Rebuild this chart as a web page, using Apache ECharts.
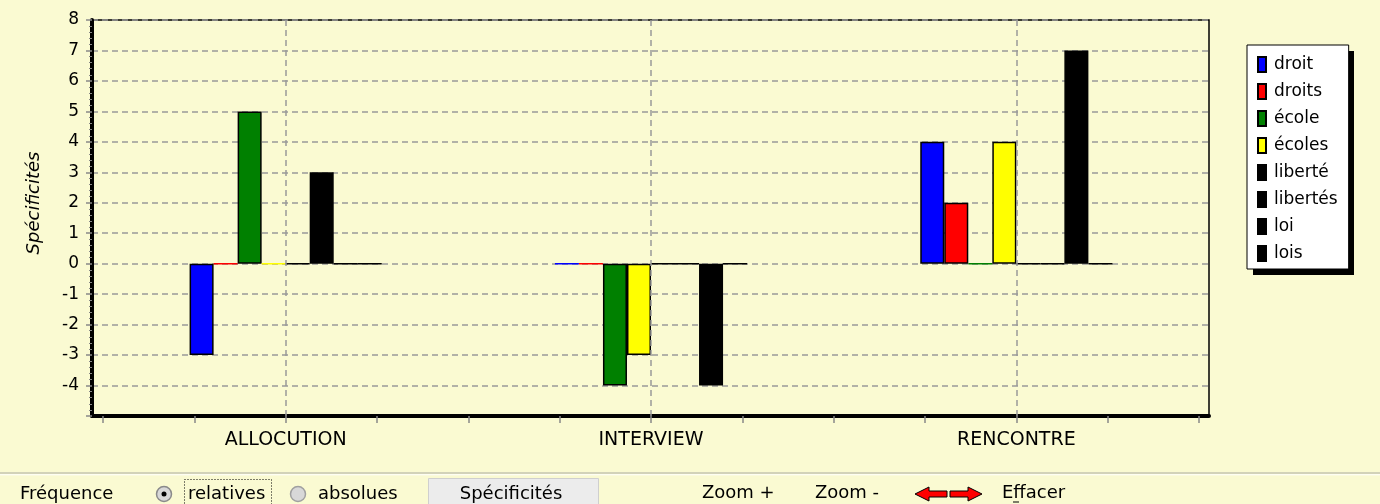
<!DOCTYPE html>
<html>
<head>
<meta charset="utf-8">
<script src="https://cdn.jsdelivr.net/npm/echarts@6/dist/echarts.min.js"></script>
<style>
html,body{margin:0;padding:0;background:#FAFAD2;}
#chart{width:1380px;height:504px;}
</style>
</head>
<body>
<div id="chart"></div>
<script>
const categories = ['ALLOCUTION', 'INTERVIEW', 'RENCONTRE'];
const seriesNames = ['droit', 'droits', 'école', 'écoles', 'liberté', 'libertés', 'loi', 'lois'];
const droit    = [-3, 0, 4];
const droits   = [0, 0, 2];
const ecole    = [5, -4, 0];
const ecoles   = [0, -3, 4];
const liberte  = [0, 0, 0];
const libertes = [3, 0, 0];
const loi      = [0, -4, 7];
const lois     = [0, 0, 0];
const seriesValues = [droit, droits, ecole, ecoles, liberte, libertes, loi, lois];
const seriesColors = ['#0000FF', '#FF0000', '#008000', '#FFFF00', '#000000', '#000000', '#000000', '#000000'];
const yMin = -5, yMax = 8;

const FONT = 'DejaVu Sans';
const chart = echarts.init(document.getElementById('chart'));

const series = seriesNames.map((name, i) => ({
  name: name,
  type: 'bar',
  xAxisIndex: 1,
  yAxisIndex: 1,
  barGap: '0%',
  barCategoryGap: '47.4%',
  itemStyle: { color: seriesColors[i], borderColor: '#000', borderWidth: 1.5 },
  emphasis: { disabled: true },
  data: seriesValues[i].map(v => v === 0 ? { value: 0, itemStyle: { borderColor: seriesColors[i] } } : v)
}));
// vertical dashed grid lines at the category centres
series.push({
  name: 'grid-v',
  type: 'line',
  xAxisIndex: 1,
  yAxisIndex: 1,
  data: [],
  silent: true,
  z: 1,
  markLine: {
    silent: true,
    symbol: 'none',
    label: { show: false },
    lineStyle: { color: '#999', width: 1.5, type: [6, 4] },
    data: categories.map(c => ({ xAxis: c }))
  }
});

const txt = (x, y, text, extra, more) => Object.assign({
  type: 'text', x: x, y: y,
  style: Object.assign({ text: text, fill: '#000', font: '18px "' + FONT + '"', verticalAlign: 'middle' }, extra || {})
}, more || {});

const option = {
  backgroundColor: '#FAFAD2',
  animation: false,
  grid: [
    { left: 92, top: 20, width: 1117, height: 396, show: true, borderColor: '#000', borderWidth: 1.5, backgroundColor: 'transparent' },
    { left: 103, top: 20, width: 1096, height: 396 }
  ],
  xAxis: [
    { gridIndex: 0, type: 'value', min: 0, max: 1,
      axisLine: { show: true, onZero: false, lineStyle: { color: '#000', width: 4 } },
      axisTick: { show: false }, axisLabel: { show: false }, splitLine: { show: false } },
    { gridIndex: 1, type: 'category', data: categories,
      axisLine: { show: false, onZero: false }, axisTick: { show: false },
      axisLabel: { margin: 15, fontSize: 19, fontFamily: FONT, color: '#000' },
      splitLine: { show: false } },
    { gridIndex: 1, type: 'value', min: 0, max: 12, interval: 1, position: 'bottom',
      axisLine: { show: false, onZero: false },
      axisTick: { show: true, length: 7, lineStyle: { color: '#888', width: 1.5 } },
      axisLabel: { show: false }, splitLine: { show: false } }
  ],
  yAxis: [
    { gridIndex: 0, type: 'value', min: yMin, max: yMax, interval: 1,
      axisLine: { show: true, onZero: false, lineStyle: { color: '#000', width: 4 } },
      axisTick: { show: true, length: 6, lineStyle: { color: '#888', width: 1.5 } },
      minorTick: { show: true, splitNumber: 5, length: 3, lineStyle: { color: '#888' } },
      axisLabel: { margin: 13, fontSize: 17, fontFamily: FONT, color: '#000',
        formatter: v => (v === yMin ? '' : String(v)) },
      splitLine: { show: true, lineStyle: { color: '#999', width: 1.5, type: [6, 4] } } },
    { gridIndex: 1, type: 'value', min: yMin, max: yMax, show: false,
      axisLine: { onZero: false }, splitLine: { show: false } }
  ],
  legend: {
    orient: 'vertical', left: 1247, top: 45,
    padding: [11, 11, 7, 10],
    itemWidth: 8, itemHeight: 15, itemGap: 10,
    icon: 'rect',
    backgroundColor: '#fff', borderColor: '#000', borderWidth: 1,
    selectedMode: false,
    textStyle: { fontFamily: FONT, fontSize: 17, color: '#000', padding: [0, 0, 0, 3] },
    data: seriesNames
  },
  graphic: [
    // legend drop shadow
    { type: 'rect', z: 1, shape: { x: 1253, y: 51, width: 101, height: 224 }, style: { fill: '#000' } },
    txt(34, 203, 'Spécificités', { font: 'italic 18px "' + FONT + '"', align: 'center' }, { rotation: Math.PI / 2 }),
    // separator
    { type: 'line', shape: { x1: 0, y1: 473, x2: 1380, y2: 473 }, style: { stroke: '#c4c4b0', lineWidth: 1.5 } },
    { type: 'line', shape: { x1: 0, y1: 474.8, x2: 1380, y2: 474.8 }, style: { stroke: '#ffffff', lineWidth: 1 } },
    txt(20, 494, 'Fréquence'),
    { type: 'circle', shape: { cx: 164, cy: 494, r: 7.5 }, style: { fill: '#d8d8d8', stroke: '#8a8a8a', lineWidth: 1.5 } },
    { type: 'circle', shape: { cx: 164, cy: 494, r: 2.5 }, style: { fill: '#000' } },
    { type: 'rect', shape: { x: 184.5, y: 479.5, width: 87, height: 30 }, style: { fill: 'none', stroke: '#000', lineWidth: 1, lineDash: [1, 2] } },
    txt(188, 494, 'relatives'),
    { type: 'circle', shape: { cx: 298, cy: 494, r: 7.5 }, style: { fill: '#d8d8d8', stroke: '#a0a0a0', lineWidth: 1.5 } },
    txt(318, 494, 'absolues'),
    { type: 'rect', shape: { x: 428.5, y: 478.5, width: 170, height: 30 }, style: { fill: '#ececec', stroke: '#cfcfcf', lineWidth: 1 } },
    txt(511, 494, 'Spécificités', { align: 'center' }),
    txt(702, 493, 'Zoom +'),
    txt(815, 493, 'Zoom -'),
    { type: 'polygon', shape: { points: [[915, 494], [929, 487], [929, 491], [947, 491], [947, 497], [929, 497], [929, 501]] },
      style: { fill: '#FF0000', stroke: '#000', lineWidth: 1 } },
    { type: 'polygon', shape: { points: [[982, 494], [968, 487], [968, 491], [950, 491], [950, 497], [968, 497], [968, 501]] },
      style: { fill: '#FF0000', stroke: '#000', lineWidth: 1 } },
    txt(1002, 493, 'Effacer'),
    { type: 'line', shape: { x1: 1013, y1: 502, x2: 1019, y2: 502 }, style: { stroke: '#000', lineWidth: 1 } }
  ],
  series: series
};
chart.setOption(option);
</script>
</body>
</html>
